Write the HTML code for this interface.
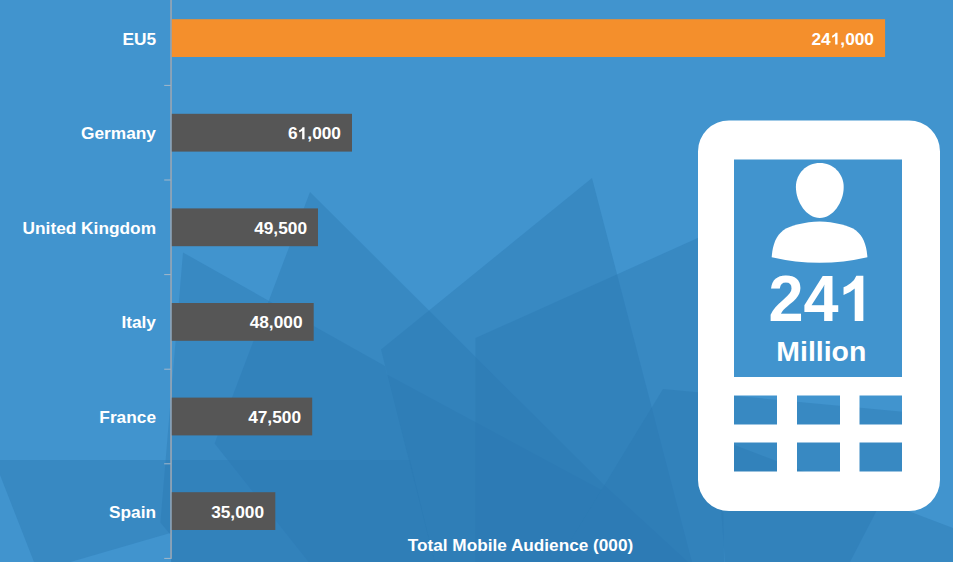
<!DOCTYPE html>
<html>
<head>
<meta charset="utf-8">
<title>Total Mobile Audience</title>
<style>
html,body{margin:0;padding:0;background:#4194ce;}
body{width:953px;height:562px;overflow:hidden;position:relative;font-family:"Liberation Sans",sans-serif;}
svg{position:absolute;left:0;top:0;display:block;}
text{font-family:"Liberation Sans",sans-serif;font-weight:bold;fill:#fff;}
</style>
</head>
<body>
<svg width="953" height="562" viewBox="0 0 953 562">
  <rect x="0" y="0" width="953" height="562" fill="#4194ce"/>
  <!-- background facets -->
  <g fill="rgb(42,120,178)" fill-opacity="0.4">
    <!-- P1 -->
    <polygon points="310,192 214.6,443.5 308.6,562 688,562 604.4,485.2"/>
    <!-- P2 -->
    <polygon points="183,252.5 160.4,522.4 171.2,535.4 171.2,562 557.6,562 601.5,490 387,374.5 385,366"/>
    <!-- P3 -->
    <polygon points="592,178 381,349.6 434.6,562 692,562"/>
    <!-- P4 -->
    <polygon points="475.5,338 720,228 724,562 475.5,562"/>
    <!-- P5 -->
    <polygon points="663,389 932,414.6 906,476 876.5,511 850,562 557.6,562"/>
    <!-- P6 -->
    <polygon points="716,438 953,528 953,562 725,562"/>
    <!-- bottom strip -->
    <polygon points="0,460 410,460 434.6,562 171.2,562 171.2,532.7 70.5,562 34,562 0,475"/>
  </g>
  <!-- axis -->
  <rect x="170.2" y="0" width="1.7" height="558.9" fill="#94a5b5"/>
  <g fill="#a3b7c9">
    <rect x="164.2" y="84.9" width="6.5" height="1"/>
    <rect x="164.2" y="179.5" width="6.5" height="1"/>
    <rect x="164.2" y="274.1" width="6.5" height="1"/>
    <rect x="164.2" y="368.7" width="6.5" height="1"/>
    <rect x="164.2" y="463.3" width="6.5" height="1"/>
    <rect x="164.2" y="557.9" width="6.5" height="1"/>
  </g>
  <!-- bars -->
  <rect x="171.8" y="19.2" width="713.3" height="37.8" fill="#f48f2c"/>
  <g fill="#565656">
    <rect x="171.8" y="113.8" width="180.2" height="37.8"/>
    <rect x="171.8" y="208.4" width="146.2" height="37.8"/>
    <rect x="171.8" y="303.0" width="141.9" height="37.8"/>
    <rect x="171.8" y="397.6" width="140.4" height="37.8"/>
    <rect x="171.8" y="492.2" width="103.5" height="37.8"/>
  </g>
  <!-- labels -->
  <g font-size="17.3" text-anchor="end">
    <text x="156" y="44.6">EU5</text>
    <text x="156" y="139.2">Germany</text>
    <text x="156" y="233.8">United Kingdom</text>
    <text x="156" y="328.4">Italy</text>
    <text x="156" y="423.0">France</text>
    <text x="156" y="517.6">Spain</text>
    <text x="811.46" y="44.6" text-anchor="start">24</text><path fill="#fff" transform="translate(830.71,44.6) scale(0.0084473,-0.0080925)" d="M806,0 H525 V1059 Q371,915 162,846 V1101 Q272,1137 401,1237.5 Q530,1338 578,1472 H806 Z"/><text x="840.33" y="44.6" text-anchor="start">,000</text>
    <text x="288.09" y="139.2" text-anchor="start">6</text><path fill="#fff" transform="translate(297.71,139.2) scale(0.0084473,-0.0080925)" d="M806,0 H525 V1059 Q371,915 162,846 V1101 Q272,1137 401,1237.5 Q530,1338 578,1472 H806 Z"/><text x="307.33" y="139.2" text-anchor="start">,000</text>
    <text x="307" y="233.8">49,500</text>
    <text x="302.5" y="328.4">48,000</text>
    <text x="301" y="423.0">47,500</text>
    <text x="264" y="517.6">35,000</text>
  </g>
  <text x="407.8" y="550.9" font-size="17.2">Total Mobile Audience (000)</text>
  <!-- phone -->
  <path fill="#fff" fill-rule="evenodd" d="M729,120.4 H909 A31,31 0 0 1 940,151.4 V480 A31,31 0 0 1 909,511 H729 A31,31 0 0 1 698,480 V151.4 A31,31 0 0 1 729,120.4 Z
    M734,395.5 H777 V424.5 H734 Z M797,395.5 H840 V424.5 H797 Z M859.5,395.5 H902 V424.5 H859.5 Z
    M734,442.5 H777 V471.5 H734 Z M797,442.5 H840 V471.5 H797 Z M859.5,442.5 H902 V471.5 H859.5 Z"/>
  <rect x="734" y="159.5" width="168" height="217.5" fill="#4194ce"/>
  <!-- person -->
  <path fill="#fff" d="M819.8,163.1 C833,163.1 843.7,173.5 843.7,187 C843.7,202 833,218 819.8,218 C806.6,218 795.9,202 795.9,187 C795.9,173.5 806.6,163.1 819.8,163.1 Z"/>
  <path fill="#fff" d="M771.7,257.3 C772.5,245 776,236 783,230.5 C790,225.5 805,222 819.6,221.6 C834,222 849,225.5 856,230.5 C863,236 866.6,245 867.4,257.3 Q819.6,268.3 771.7,257.3 Z"/>
  <text x="768.5" y="321" font-size="63" transform="translate(0,321) scale(1,1.04) translate(0,-321)">24</text>
  <path fill="#fff" transform="translate(838.56,321) scale(0.030762,-0.030762)" d="M806,0 H525 V1059 Q371,915 162,846 V1101 Q272,1137 401,1237.5 Q530,1338 578,1472 H806 Z"/>
  <text x="821.3" y="360.8" font-size="28.4" text-anchor="middle">Million</text>
</svg>
</body>
</html>
